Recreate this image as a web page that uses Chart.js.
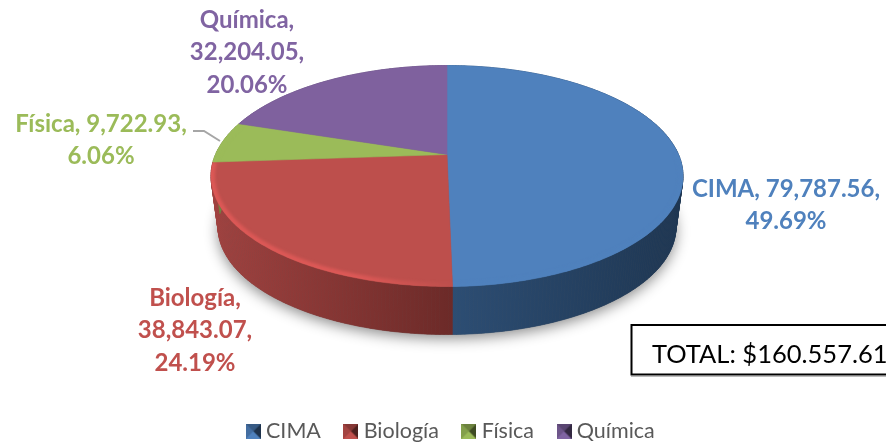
<!DOCTYPE html>
<html lang="es">
<head>
<meta charset="UTF-8">
<title>Total por área</title>
<script src="https://cdn.jsdelivr.net/npm/chart.js"></script>
<style>
  html, body { margin: 0; padding: 0; background: #fff; overflow: hidden; }
  #wrap { position: relative; width: 886px; height: 443px; }
</style>
</head>
<body>
<div id="wrap"><canvas id="pie"></canvas></div>
<script>
const categories = ['CIMA', 'Biología', 'Física', 'Química'];
const values = [79787.56, 38843.07, 9722.93, 32204.05];
const percents = ['49.69%', '24.19%', '6.06%', '20.06%'];
const totalLabel = 'TOTAL: $160.557.61';

const topColors = ['#4f81bd', '#bd4f4c', '#9bbb59', '#7f619e'];
const labelColors = ['#4f81bd', '#c0504d', '#9bbb59', '#8064a2'];
// side wall shading, left end then right end
const sideColors = [['#2d4e74', '#1e3652'], ['#a04240', '#6c2a28'], ['#6e8540', '#6e8540'], ['#5b4674', '#5b4674']];
const rimColors = ['#4f81bd', '#dc5856', '#9bbb59', '#7f619e'];

// label text: which parts share a line, and where each label sits
const labelLines = [[[0, 1], [2]], [[0], [1], [2]], [[0, 1], [2]], [[0], [1], [2]]];
const labelX = [786, 195, 101, 247];
const labelY = [189, 298, 124, 20];
const lineGap = 32.5;

// perspective of the pie disc
const apex = { x: 447, y: 154.5 };
const disc = { a: 231.5, b: 106.3, k: 0.1946 };
const floor = { drop: 52, scale: 0.97 };

function project(angle, base) {
  const u = Math.cos(angle), v = Math.sin(angle);
  const w = 1 - disc.k * v;
  const s = base ? floor.scale : 1;
  return {
    x: apex.x + s * disc.a * u / w,
    y: apex.y + (base ? floor.drop : 0) + s * disc.b * v / w
  };
}

function rimPoints(start, end, base) {
  const pts = [];
  const n = Math.max(2, Math.ceil((end - start) / 0.015));
  for (let i = 0; i <= n; i++) pts.push(project(start + (end - start) * i / n, base));
  return pts;
}

function tracePts(ctx, pts, move) {
  pts.forEach((p, i) => (i === 0 && move) ? ctx.moveTo(p.x, p.y) : ctx.lineTo(p.x, p.y));
}

const pie3d = {
  id: 'pie3d',
  beforeDatasetDraw(chart) {
    const ctx = chart.ctx;
    const arcs = chart.getDatasetMeta(0).data;
    ctx.save();

    // soft shadow under the whole disc
    ctx.save();
    ctx.shadowColor = 'rgba(0,0,0,0.45)';
    ctx.shadowBlur = 14;
    ctx.shadowOffsetY = 4;
    ctx.fillStyle = '#555';
    ctx.beginPath();
    tracePts(ctx, rimPoints(0, Math.PI * 2, true), true);
    ctx.closePath();
    ctx.fill();
    ctx.restore();

    // side walls, one small quad per rim step so the tangent corners get filled
    arcs.forEach((arc, i) => {
      const top = rimPoints(arc.startAngle, arc.endAngle, false);
      const bottom = rimPoints(arc.startAngle, arc.endAngle, true);
      const xs = top.concat(bottom).map(p => p.x);
      const g = ctx.createLinearGradient(Math.min(...xs), 0, Math.max(...xs), 0);
      g.addColorStop(0, sideColors[i][0]);
      g.addColorStop(1, sideColors[i][1]);
      ctx.fillStyle = g;
      ctx.strokeStyle = g;
      ctx.lineWidth = 0.6;
      for (let j = 0; j < top.length - 1; j++) {
        ctx.beginPath();
        ctx.moveTo(top[j].x, top[j].y);
        ctx.lineTo(top[j + 1].x, top[j + 1].y);
        ctx.lineTo(bottom[j + 1].x, bottom[j + 1].y);
        ctx.lineTo(bottom[j].x, bottom[j].y);
        ctx.closePath();
        ctx.fill();
        ctx.stroke();
      }
    });

    // top face with a small bevel along the rim
    arcs.forEach((arc, i) => {
      const rim = rimPoints(arc.startAngle, arc.endAngle, false);
      ctx.fillStyle = topColors[i];
      ctx.strokeStyle = topColors[i];
      ctx.lineWidth = 0.6;
      ctx.beginPath();
      ctx.moveTo(apex.x, apex.y);
      tracePts(ctx, rim, false);
      ctx.closePath();
      ctx.fill();
      ctx.stroke();

      ctx.save();
      ctx.clip();
      ctx.filter = 'blur(1.5px)';
      const xs = rim.map(p => p.x);
      const g = ctx.createLinearGradient(Math.min(...xs), 0, Math.max(...xs), 0);
      g.addColorStop(0, rimColors[i]);
      g.addColorStop(0.6, rimColors[i]);
      g.addColorStop(1, topColors[i]);
      ctx.strokeStyle = g;
      ctx.lineWidth = 8;
      ctx.beginPath();
      tracePts(ctx, rimPoints(Math.max(arc.startAngle, 0), Math.min(arc.endAngle, Math.PI * 1.1), false), true);
      ctx.stroke();
      ctx.restore();
    });

    ctx.restore();
    return false;
  },
  afterDraw(chart) {
    const ctx = chart.ctx;
    ctx.save();

    // leader line of the Física label
    ctx.strokeStyle = '#a6a6a6';
    ctx.lineWidth = 2;
    ctx.beginPath();
    ctx.moveTo(193, 131);
    ctx.lineTo(204, 131);
    ctx.lineTo(220, 141);
    ctx.stroke();

    // data labels
    ctx.font = 'bold 24px Lato';
    ctx.textAlign = 'center';
    ctx.textBaseline = 'middle';
    categories.forEach((name, i) => {
      const parts = [
        name + ',',
        values[i].toLocaleString('en-US', { minimumFractionDigits: 2 }) + ',',
        percents[i]
      ];
      ctx.fillStyle = labelColors[i];
      labelLines[i].forEach((line, j) => {
        ctx.fillText(line.map(p => parts[p]).join(' '), labelX[i], labelY[i] + j * lineGap);
      });
    });

    // total box, runs off the right edge
    ctx.fillStyle = '#fff';
    ctx.fillRect(631.5, 325, 260, 49.5);
    ctx.strokeStyle = '#bbb';
    ctx.lineWidth = 1;
    ctx.beginPath();
    ctx.moveTo(631, 376.5);
    ctx.lineTo(886, 376.5);
    ctx.stroke();
    ctx.strokeStyle = '#000';
    ctx.lineWidth = 2;
    ctx.strokeRect(631.5, 325, 260, 49.5);
    ctx.fillStyle = '#000';
    ctx.font = '25.5px Lato';
    ctx.textAlign = 'left';
    ctx.fillText(totalLabel, 652, 355);

    ctx.restore();
  }
};

// bevelled legend swatch
function swatch(color) {
  const c = document.createElement('canvas');
  c.width = 15;
  c.height = 15;
  const g = c.getContext('2d');
  g.fillStyle = color;
  g.fillRect(0, 0, 15, 15);
  [[0, 0, 15, 0, 0.3], [0, 0, 0, 15, 0.15], [15, 0, 15, 15, 0.6]].forEach(t => {
    g.fillStyle = 'rgba(0,0,0,' + t[4] + ')';
    g.beginPath();
    g.moveTo(t[0], t[1]);
    g.lineTo(t[2], t[3]);
    g.lineTo(7.5, 7.5);
    g.closePath();
    g.fill();
  });
  return c;
}

new Chart(document.getElementById('pie'), {
  type: 'pie',
  data: {
    labels: categories,
    datasets: [{ data: values, backgroundColor: topColors, borderWidth: 0 }]
  },
  plugins: [pie3d],
  options: {
    responsive: true,
    maintainAspectRatio: false,
    animation: false,
    layout: { padding: { left: 20, right: 0, top: 0, bottom: -9 } },
    plugins: {
      tooltip: { enabled: false },
      legend: {
        position: 'bottom',
        labels: {
          color: '#595959',
          font: { family: 'Lato', size: 21.5 },
          usePointStyle: true,
          pointStyleWidth: 4,
          padding: 28,
          generateLabels: chart => categories.map((name, i) => ({
            text: name,
            fontColor: '#595959',
            pointStyle: swatch(labelColors[i]),
            index: i
          }))
        }
      }
    }
  }
});
</script>
</body>
</html>
